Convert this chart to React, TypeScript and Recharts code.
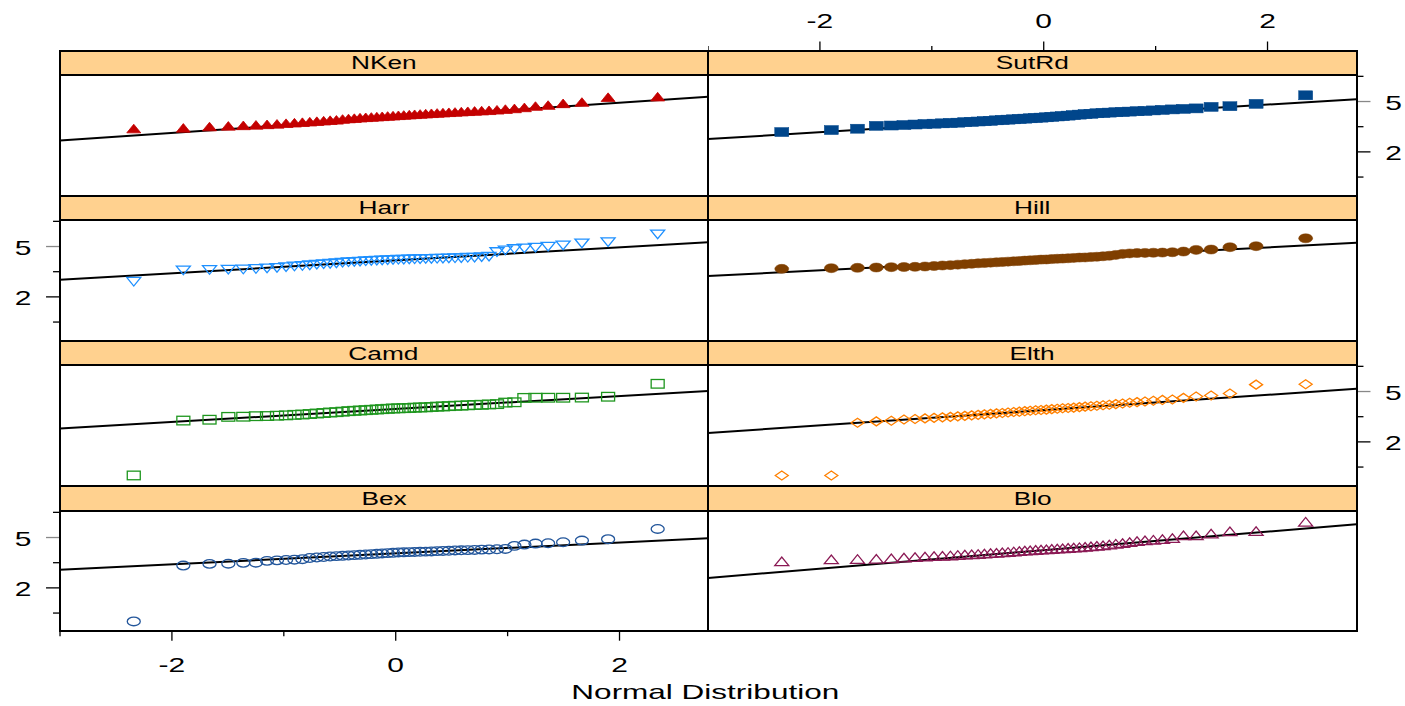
import React from 'react';
import { ScatterChart, Scatter, XAxis, YAxis, ReferenceLine } from 'recharts';

// ---------- data ----------
const theoreticalQuantiles = [
  -2.341, -1.898, -1.664, -1.496, -1.362, -1.249, -1.15, -1.061, -0.98, -0.905,
  -0.834, -0.768, -0.705, -0.644, -0.586, -0.53, -0.475, -0.422, -0.37, -0.319,
  -0.268, -0.218, -0.169, -0.121, -0.072, -0.024, 0.024, 0.072, 0.121, 0.169,
  0.218, 0.268, 0.319, 0.37, 0.422, 0.475, 0.53, 0.586, 0.644, 0.705,
  0.768, 0.834, 0.905, 0.98, 1.061, 1.15, 1.249, 1.362, 1.496, 1.664,
  1.898, 2.341,
];

const panelNames = ['NKen', 'SutRd', 'Harr', 'Hill', 'Camd', 'Elth', 'Bex', 'Blo'];

const nkenValues = [
  3.36, 3.4, 3.48, 3.52, 3.55, 3.58, 3.61, 3.64, 3.68, 3.71,
  3.74, 3.77, 3.8, 3.83, 3.86, 3.88, 3.93, 3.96, 3.98, 4.01,
  4.03, 4.05, 4.07, 4.09, 4.11, 4.13, 4.15, 4.17, 4.19, 4.21,
  4.23, 4.25, 4.27, 4.29, 4.31, 4.33, 4.35, 4.37, 4.39, 4.41,
  4.43, 4.45, 4.48, 4.52, 4.56, 4.62, 4.7, 4.76, 4.86, 4.94,
  5.23, 5.26,
];
const sutRdValues = [
  3.18, 3.3, 3.38, 3.55, 3.57, 3.6, 3.63, 3.66, 3.68, 3.7,
  3.72, 3.74, 3.77, 3.79, 3.81, 3.83, 3.85, 3.88, 3.9, 3.92,
  3.94, 3.96, 3.98, 4.0, 4.02, 4.04, 4.06, 4.09, 4.11, 4.13,
  4.16, 4.19, 4.22, 4.25, 4.27, 4.3, 4.32, 4.34, 4.36, 4.38,
  4.4, 4.42, 4.44, 4.47, 4.5, 4.53, 4.56, 4.59, 4.68, 4.72,
  4.86, 5.37,
];
const harrValues = [
  2.93, 3.61, 3.63, 3.65, 3.66, 3.69, 3.73, 3.76, 3.8, 3.84,
  3.87, 3.91, 3.95, 3.98, 4.0, 4.03, 4.07, 4.09, 4.11, 4.13,
  4.15, 4.17, 4.19, 4.2, 4.22, 4.23, 4.24, 4.25, 4.26, 4.27,
  4.28, 4.29, 4.29, 4.3, 4.31, 4.32, 4.33, 4.34, 4.36, 4.37,
  4.4, 4.43, 4.7, 4.8, 4.88, 4.92, 4.96, 5.02, 5.1, 5.22,
  5.29, 5.75,
];
const hillValues = [
  3.67, 3.71, 3.73, 3.75, 3.77, 3.78, 3.79, 3.81, 3.84, 3.87,
  3.89, 3.92, 3.95, 3.97, 4.0, 4.02, 4.04, 4.06, 4.08, 4.1,
  4.12, 4.14, 4.16, 4.18, 4.2, 4.22, 4.23, 4.25, 4.27, 4.28,
  4.3, 4.32, 4.34, 4.35, 4.37, 4.39, 4.42, 4.45, 4.5, 4.56,
  4.59, 4.61, 4.62, 4.63, 4.64, 4.66, 4.7, 4.8, 4.82, 4.96,
  5.02, 5.49,
];
const camdValues = [
  0.0, 3.27, 3.32, 3.49, 3.5, 3.53, 3.54, 3.56, 3.58, 3.61,
  3.63, 3.66, 3.69, 3.72, 3.75, 3.77, 3.8, 3.83, 3.85, 3.87,
  3.89, 3.91, 3.93, 3.95, 3.97, 3.99, 4.0, 4.01, 4.02, 4.04,
  4.05, 4.06, 4.08, 4.1, 4.11, 4.13, 4.15, 4.16, 4.18, 4.2,
  4.21, 4.23, 4.25, 4.34, 4.36, 4.62, 4.63, 4.63, 4.63, 4.64,
  4.69, 5.46,
];
const elthValues = [
  0.0, 0.0, 3.14, 3.22, 3.26, 3.33, 3.36, 3.4, 3.43, 3.46,
  3.49, 3.52, 3.55, 3.58, 3.61, 3.64, 3.67, 3.7, 3.72, 3.75,
  3.78, 3.8, 3.83, 3.85, 3.88, 3.9, 3.92, 3.95, 3.97, 4.0,
  4.02, 4.04, 4.07, 4.1, 4.12, 4.15, 4.18, 4.21, 4.25, 4.29,
  4.33, 4.37, 4.41, 4.45, 4.5, 4.52, 4.62, 4.7, 4.76, 4.88,
  5.41, 5.43,
];
const bexValues = [
  0.0, 3.33, 3.43, 3.44, 3.49, 3.5, 3.61, 3.64, 3.66, 3.68,
  3.71, 3.78, 3.81, 3.84, 3.87, 3.89, 3.91, 3.93, 3.95, 3.97,
  3.99, 4.01, 4.03, 4.05, 4.07, 4.09, 4.11, 4.12, 4.13, 4.14,
  4.15, 4.16, 4.17, 4.19, 4.2, 4.21, 4.23, 4.24, 4.25, 4.26,
  4.28, 4.29, 4.3, 4.32, 4.5, 4.58, 4.64, 4.66, 4.72, 4.82,
  4.9, 5.51,
];
const bloValues = [
  3.55, 3.67, 3.69, 3.7, 3.73, 3.77, 3.8, 3.83, 3.86, 3.88,
  3.9, 3.93, 3.95, 3.97, 3.99, 4.01, 4.04, 4.06, 4.09, 4.11,
  4.14, 4.16, 4.19, 4.21, 4.23, 4.25, 4.27, 4.29, 4.31, 4.33,
  4.35, 4.37, 4.39, 4.41, 4.44, 4.47, 4.5, 4.55, 4.6, 4.64,
  4.7, 4.76, 4.8, 4.84, 4.88, 4.94, 5.1, 5.1, 5.2, 5.34,
  5.35, 5.91,
];

// reference (qq) line: value at left and right edge of the x range
const lineLeftValues = [2.68, 2.76, 3.02, 3.24, 2.8, 2.53, 3.08, 2.59];
const lineRightValues = [5.29, 5.14, 5.26, 5.22, 5.04, 5.16, 4.96, 5.79];

const xDomain = [-3.0, 2.795];
const yDomain = [-0.61, 6.58];
const xTicks = [-3, -2, -1, 0, 1, 2];
const xLabelTicks = [-2, 0, 2];
const yTicks = [0.5, 2, 3.5, 5, 6.5];
const yLabelTicks = [2, 5];
const xAxisTitle = 'Normal Distribution';

const panelValues = [nkenValues, sutRdValues, harrValues, hillValues, camdValues, elthValues, bexValues, bloValues];

// ---------- styling / layout ----------
const FONT = '"Liberation Sans", Arial, Helvetica, sans-serif';
const STRETCH = 1.5;
const COL_LEFT = [59.5, 708];
const PLOT_W = 648.5;
const ROW_STRIP_TOP = [50.5, 195.7, 340.9, 486.1];
const STRIP_H = 24.5;
const PLOT_H = 120.7;
const X_AXIS_H = 75;
const Y_AXIS_W = 60;
const STRIP_BG = '#FFD18F';

type Marker = 'triUpFilled' | 'squareFilled' | 'triDownOpen' | 'circleFilled' | 'squareOpen' | 'diamondOpen' | 'circleOpen' | 'triUpOpen';

const panelStyle: { color: string; marker: Marker; col: number; row: number; xAxis: null | 'top' | 'bottom'; yAxis: null | 'left' | 'right' }[] = [
  { color: '#C40000', marker: 'triUpFilled', col: 0, row: 0, xAxis: null, yAxis: null },
  { color: '#00468B', marker: 'squareFilled', col: 1, row: 0, xAxis: 'top', yAxis: 'right' },
  { color: '#1E90FF', marker: 'triDownOpen', col: 0, row: 1, xAxis: null, yAxis: 'left' },
  { color: '#7F3F00', marker: 'circleFilled', col: 1, row: 1, xAxis: null, yAxis: null },
  { color: '#1E961E', marker: 'squareOpen', col: 0, row: 2, xAxis: null, yAxis: null },
  { color: '#FF8000', marker: 'diamondOpen', col: 1, row: 2, xAxis: null, yAxis: 'right' },
  { color: '#23569B', marker: 'circleOpen', col: 0, row: 3, xAxis: 'bottom', yAxis: 'left' },
  { color: '#8B1A55', marker: 'triUpOpen', col: 1, row: 3, xAxis: null, yAxis: null },
];

const makeShape = (marker: Marker, color: string) => (props: any) => {
  const cx = props.cx;
  const cy = props.cy;
  if (cx == null || cy == null) return <g />;
  const sw = 1.3;
  switch (marker) {
    case 'triUpFilled':
      return <path d={`M${cx - 7},${cy + 3.8} L${cx + 7},${cy + 3.8} L${cx},${cy - 4.8} Z`} fill={color} stroke={color} strokeWidth={0.8} />;
    case 'triUpOpen':
      return <path d={`M${cx - 7},${cy + 3.8} L${cx + 7},${cy + 3.8} L${cx},${cy - 4.8} Z`} fill="none" stroke={color} strokeWidth={sw} />;
    case 'triDownOpen':
      return <path d={`M${cx - 7},${cy - 3.8} L${cx + 7},${cy - 3.8} L${cx},${cy + 4.8} Z`} fill="none" stroke={color} strokeWidth={sw} />;
    case 'squareFilled':
      return <rect x={cx - 7} y={cy - 4.5} width={14} height={9} fill={color} stroke={color} strokeWidth={0.5} />;
    case 'squareOpen':
      return <rect x={cx - 6.5} y={cy - 4.3} width={13} height={8.6} fill="none" stroke={color} strokeWidth={sw} />;
    case 'circleFilled':
      return <ellipse cx={cx} cy={cy} rx={7} ry={4.5} fill={color} stroke={color} strokeWidth={0.5} />;
    case 'circleOpen':
      return <ellipse cx={cx} cy={cy} rx={6.5} ry={4.3} fill="none" stroke={color} strokeWidth={sw} />;
    case 'diamondOpen':
      return <path d={`M${cx - 6.5},${cy} L${cx},${cy - 4.5} L${cx + 6.5},${cy} L${cx},${cy + 4.5} Z`} fill="none" stroke={color} strokeWidth={sw} />;
  }
  return <g />;
};

const textStyle = { fontFamily: FONT, fontSize: 20, fill: '#000' } as const;

const makeXTick = (orient: 'top' | 'bottom') => (props: any) => {
  const { x, y, payload } = props;
  const v = payload.value;
  const major = xLabelTicks.includes(v);
  const len = major ? 9 : 4.5;
  if (orient === 'bottom') {
    return (
      <g>
        <line x1={x} x2={x} y1={y} y2={y + len} stroke="#000" strokeWidth={1.3} />
        {major && (
          <text transform={`translate(${x},${y + 40}) scale(${STRETCH},1)`} textAnchor="middle" style={textStyle}>
            {String(v)}
          </text>
        )}
      </g>
    );
  }
  const base = y - STRIP_H;
  return (
    <g>
      <line x1={x} x2={x} y1={base} y2={base - len} stroke="#000" strokeWidth={1.3} />
      {major && (
        <text transform={`translate(${x},${base - 22}) scale(${STRETCH},1)`} textAnchor="middle" style={textStyle}>
          {String(v)}
        </text>
      )}
    </g>
  );
};

const makeYTick = (orient: 'left' | 'right') => (props: any) => {
  const { x, y, payload } = props;
  const v = payload.value;
  const major = yLabelTicks.includes(v);
  const len = major ? 14 : 7;
  const dir = orient === 'left' ? -1 : 1;
  const tickColor = major && v === 5 ? '#888' : '#000';
  return (
    <g>
      <line x1={x} x2={x + dir * len} y1={y} y2={y} stroke={tickColor} strokeWidth={1.3} />
      {major && (
        <text
          transform={`translate(${x + dir * 37},${y + 8}) scale(${STRETCH},1)`}
          textAnchor="middle"
          style={textStyle}
        >
          {String(v)}
        </text>
      )}
    </g>
  );
};

const Panel = ({ index }: { index: number }) => {
  const st = panelStyle[index];
  const values = panelValues[index];
  const data = theoreticalQuantiles.map((q, i) => ({ x: q, y: values[i] }));
  const stripTop = ROW_STRIP_TOP[st.row];
  const plotTop = stripTop + STRIP_H;
  const left = COL_LEFT[st.col] - (st.yAxis === 'left' ? Y_AXIS_W : 0);
  const top = plotTop - (st.xAxis === 'top' ? X_AXIS_H : 0);
  const width = PLOT_W + (st.yAxis ? Y_AXIS_W : 0);
  const height = PLOT_H + (st.xAxis ? X_AXIS_H : 0);
  return (
    <>
      <div
        style={{
          position: 'absolute',
          left: COL_LEFT[st.col],
          top: stripTop,
          width: PLOT_W,
          height: STRIP_H,
          background: STRIP_BG,
          display: 'flex',
          alignItems: 'center',
          justifyContent: 'center',
          fontFamily: FONT,
          fontSize: 17.5,
          color: '#000',
        }}
      >
        <span style={{ display: 'inline-block', transform: `scaleX(${STRETCH})`, marginTop: 2 }}>{panelNames[index]}</span>
      </div>
      <div style={{ position: 'absolute', left, top, width, height }}>
        <ScatterChart width={width} height={height} margin={{ top: 0, right: 0, bottom: 0, left: 0 }} style={{ overflow: 'visible' }}>
          <XAxis
            type="number"
            dataKey="x"
            domain={xDomain}
            allowDataOverflow
            ticks={xTicks}
            interval={0}
            hide={!st.xAxis}
            orientation={st.xAxis === 'top' ? 'top' : 'bottom'}
            height={X_AXIS_H}
            axisLine={false}
            tickLine={false}
            tickSize={0}
            tickMargin={0}
            tick={makeXTick(st.xAxis === 'top' ? 'top' : 'bottom')}
          />
          <YAxis
            type="number"
            dataKey="y"
            domain={yDomain}
            allowDataOverflow
            ticks={yTicks}
            interval={0}
            hide={!st.yAxis}
            orientation={st.yAxis === 'right' ? 'right' : 'left'}
            width={Y_AXIS_W}
            axisLine={false}
            tickLine={false}
            tickSize={0}
            tickMargin={0}
            tick={makeYTick(st.yAxis === 'right' ? 'right' : 'left')}
          />
          <Scatter data={data} isAnimationActive={false} shape={makeShape(st.marker, st.color)} />
          <ReferenceLine
            segment={[
              { x: xDomain[0], y: lineLeftValues[index] },
              { x: xDomain[1], y: lineRightValues[index] },
            ]}
            stroke="#000"
            strokeWidth={2}
            ifOverflow="visible"
          />
        </ScatterChart>
      </div>
      <div
        style={{
          position: 'absolute',
          left: COL_LEFT[st.col] - 1,
          top: stripTop - 1,
          width: PLOT_W + 2,
          height: STRIP_H + PLOT_H + 2,
          border: '2px solid #000',
          boxSizing: 'border-box',
          pointerEvents: 'none',
        }}
      />
      <div
        style={{
          position: 'absolute',
          left: COL_LEFT[st.col] - 1,
          top: plotTop - 1,
          width: PLOT_W + 2,
          height: 2,
          background: '#000',
          pointerEvents: 'none',
        }}
      />
    </>
  );
};

export default function App() {
  return (
    <div style={{ position: 'absolute', left: 0, top: 0, width: 1405, height: 706, background: '#fff', overflow: 'hidden' }}>
      {panelNames.map((_, i) => (
        <Panel key={i} index={i} />
      ))}
      <div
        style={{
          position: 'absolute',
          left: 405,
          top: 680,
          width: 600,
          textAlign: 'center',
          fontFamily: FONT,
          fontSize: 21,
          color: '#000',
        }}
      >
        <span style={{ display: 'inline-block', transform: `scaleX(${STRETCH})` }}>{xAxisTitle}</span>
      </div>
    </div>
  );
}
